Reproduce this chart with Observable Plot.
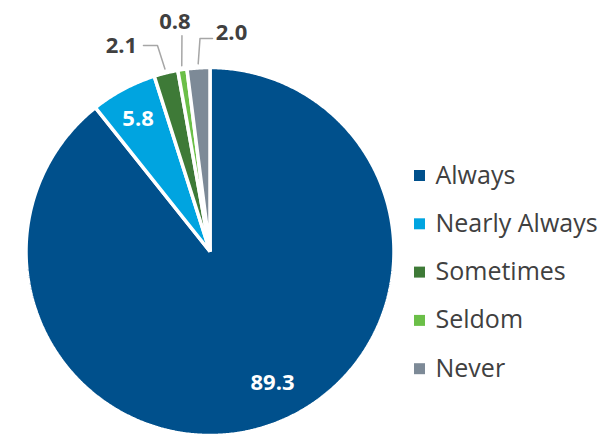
<!DOCTYPE html>
<html><head><meta charset="utf-8">
<script src="https://cdn.jsdelivr.net/npm/d3@7"></script>
<script src="https://cdn.jsdelivr.net/npm/@observablehq/plot@0.6"></script>
<style>html,body{margin:0;padding:0;background:#fff;} svg{display:block;}</style>
</head><body><div id="chart"></div>
<script>
// ---- data ----
const categories = ["Always", "Nearly Always", "Sometimes", "Seldom", "Never"];
const values = [89.3, 5.8, 2.1, 0.8, 2.0];
const valueLabels = ["89.3", "5.8", "2.1", "0.8", "2.0"];
const colors = ["#00508C", "#00A4E0", "#3E7A37", "#6BBF48", "#7D8A97"];

// ---- layout (pixels) ----
const W = 613, H = 434;
const cx = 209.5, cy = 251, R = 184, explode = 0, border = 3.5;
// inside labels: angle shift (deg) and radius fraction
const insideLayout = {"Always": {dAngle: -6.2, rho: 0.79}, "Nearly Always": {dAngle: -0.4, rho: 0.82}};
// outside labels: leader starts just outside the rim; label and leader bends relative to that point
const leaderGap = 4;
const outsideLayout = {
  "Sometimes": {label: [-43.5, -23], leader: [[-21.5, -23.5], [-7.5, -23.5]]},
  "Seldom": {label: [-6.8, -43.6], leader: [[0.2, -30]]},
  "Never": {label: [33.3, -30.9], leader: [[14.3, -25.4], [1.8, -25.4]]}
};
const legend = {x: 419, textX: 435, top: 175, step: 48.3};

// ---- geometry from data ----
const total = d3.sum(values);
let acc = 0;
const slices = categories.map((c, i) => {
  const a0 = acc / total * 2 * Math.PI; acc += values[i];
  const a1 = acc / total * 2 * Math.PI;
  const mid = (a0 + a1) / 2;
  return {cat: c, value: values[i], label: valueLabels[i], a0, a1, mid,
          ox: explode * Math.sin(mid), oy: -explode * Math.cos(mid)};
});
const polar = (a, rho, ox = 0, oy = 0) => [cx + ox + rho * Math.sin(a), cy + oy - rho * Math.cos(a)];

const piePts = [];
for (const s of slices) {
  const n = Math.max(2, Math.ceil((s.a1 - s.a0) / (Math.PI / 360)));
  const [ax, ay] = polar(0, 0, s.ox, s.oy);
  piePts.push({cat: s.cat, x: ax, y: ay});
  for (let k = 0; k <= n; k++) {
    const a = s.a0 + (s.a1 - s.a0) * k / n;
    const [x, y] = polar(a, R, s.ox, s.oy);
    piePts.push({cat: s.cat, x, y});
  }
}

const inLabels = slices.filter(s => insideLayout[s.cat]).map(s => {
  const L = insideLayout[s.cat];
  const [x, y] = polar(s.mid + L.dAngle * Math.PI / 180, R * L.rho, s.ox, s.oy);
  return {x, y, text: s.label};
});

const outLabels = [], leaders = [];
for (const s of slices) {
  const L = outsideLayout[s.cat];
  if (!L) continue;
  const [px, py] = polar(s.mid, R + leaderGap, s.ox, s.oy);
  outLabels.push({x: px + L.label[0], y: py + L.label[1], text: s.label});
  leaders.push({cat: s.cat, x: px, y: py});
  for (const p of L.leader.slice().reverse()) leaders.push({cat: s.cat, x: px + p[0], y: py + p[1]});
}

const legendRows = categories.map((c, i) => ({cat: c, y: legend.top + i * legend.step}));

const chart = Plot.plot({
  width: W, height: H, margin: 0,
  x: {type: "identity", axis: null},
  y: {type: "identity", axis: null},
  color: {domain: categories, range: colors},
  style: {fontFamily: "'Open Sans', sans-serif", background: "#fff"},
  marks: [
    Plot.line(piePts, {x: "x", y: "y", z: "cat", fill: "cat", stroke: "white", strokeWidth: border, curve: "linear-closed", strokeLinejoin: "miter"}),
    Plot.line(leaders, {x: "x", y: "y", z: "cat", stroke: "#A6A6A6", strokeWidth: 1.5}),
    Plot.text(inLabels, {x: "x", y: "y", text: "text", fill: "white", fontSize: 22, fontWeight: "bold", lineAnchor: "middle"}),
    Plot.text(outLabels, {x: "x", y: "y", text: "text", fill: "#404040", fontSize: 22, fontWeight: "bold", lineAnchor: "middle"}),
    Plot.dot(legendRows, {x: () => legend.x, y: "y", symbol: "square", r: 6.2, fill: "cat"}),
    Plot.text(legendRows, {x: () => legend.textX, y: "y", text: "cat", fill: "#404040", fontSize: 25, textAnchor: "start", lineAnchor: "middle"})
  ]
});
document.getElementById("chart").appendChild(chart);
</script>
</body></html>
